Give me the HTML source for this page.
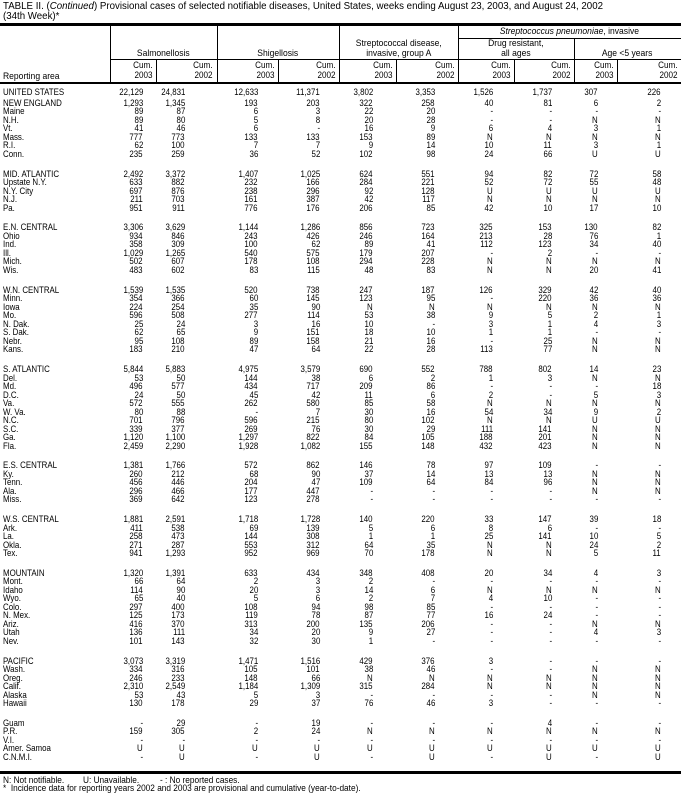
<!DOCTYPE html>
<html><head><meta charset="utf-8"><style>
*{margin:0;padding:0;box-sizing:border-box}
body{width:681px;height:795px;background:#fff;position:relative;overflow:hidden;font-family:"Liberation Sans",Arial,sans-serif;color:#000}
.t{position:absolute;white-space:nowrap;font-size:10px;transform:scaleX(.97);transform-origin:left}
.ln{position:absolute;background:#000}
.h{position:absolute;font-size:9.5px;line-height:9.5px;text-align:center;white-space:nowrap}
.h span{display:inline-block;transform:scaleX(.9)}
.cum{position:absolute;font-size:9px;line-height:9.5px;text-align:right;white-space:nowrap;transform:scaleX(.9);transform-origin:right}
.g{position:absolute;left:0;width:681px}
.r{position:relative;height:8.5px;line-height:8.5px;font-size:9.3px;white-space:nowrap}
.r span{position:absolute;top:0;transform:scaleX(.85);transform-origin:right}
.r span:nth-child(1){left:3px;transform-origin:left}
.r span:nth-child(2){right:538px}
.r span:nth-child(3){right:496px}
.r span:nth-child(4){right:423px}
.r span:nth-child(5){right:361px}
.r span:nth-child(6){right:308px}
.r span:nth-child(7){right:246px}
.r span:nth-child(8){right:188px}
.r span:nth-child(9){right:129px}
.r span:nth-child(10){right:83px}
.r span:nth-child(11){right:20px}
.f{position:absolute;font-size:9px;white-space:nowrap;transform:scaleX(.9);transform-origin:left}
.fn{position:absolute;font-size:9px;white-space:nowrap;transform:scaleX(.92);transform-origin:left}
</style></head><body>
<div class="t" style="left:3px;top:1px">TABLE II. (<i>Continued</i>) Provisional cases of selected notifiable diseases, United States, weeks ending August 23, 2003, and August 24, 2002</div>
<div class="t" style="left:3px;top:11px">(34th Week)*</div>

<div class="ln" style="left:0;top:23px;width:681px;height:3px"></div>
<div class="ln" style="left:0;top:82px;width:681px;height:1.5px"></div>
<div class="ln" style="left:458px;top:38px;width:223px;height:1px"></div>
<div class="ln" style="left:110px;top:59px;width:571px;height:1px"></div>
<div class="ln" style="left:110px;top:25px;width:1px;height:58px"></div>
<div class="ln" style="left:217px;top:25px;width:1px;height:58px"></div>
<div class="ln" style="left:339px;top:25px;width:1px;height:58px"></div>
<div class="ln" style="left:458px;top:25px;width:1px;height:58px"></div>
<div class="ln" style="left:574px;top:38px;width:1px;height:45px"></div>
<div class="ln" style="left:156px;top:59px;width:1px;height:24px"></div>
<div class="ln" style="left:278px;top:59px;width:1px;height:24px"></div>
<div class="ln" style="left:396px;top:59px;width:1px;height:24px"></div>
<div class="ln" style="left:514px;top:59px;width:1px;height:24px"></div>
<div class="ln" style="left:617px;top:59px;width:1px;height:24px"></div>

<div class="h" style="left:458px;width:223px;top:27px"><span><i>Streptococcus pneumoniae</i>, invasive</span></div>
<div class="h" style="left:110px;width:107px;top:49px"><span>Salmonellosis</span></div>
<div class="h" style="left:217px;width:122px;top:49px"><span>Shigellosis</span></div>
<div class="h" style="left:339px;width:119px;top:39px"><span>Streptococcal disease,<br>invasive, group A</span></div>
<div class="h" style="left:458px;width:116px;top:39px"><span>Drug resistant,<br>all ages</span></div>
<div class="h" style="left:574px;width:107px;top:49px"><span>Age &lt;5 years</span></div>
<div class="f" style="left:3px;top:71px;font-size:9.5px">Reporting area</div>

<div class="cum" style="right:528px;top:61px">Cum.<br>2003</div>
<div class="cum" style="right:468px;top:61px">Cum.<br>2002</div>
<div class="cum" style="right:406px;top:61px">Cum.<br>2003</div>
<div class="cum" style="right:345px;top:61px">Cum.<br>2002</div>
<div class="cum" style="right:288px;top:61px">Cum.<br>2003</div>
<div class="cum" style="right:226px;top:61px">Cum.<br>2002</div>
<div class="cum" style="right:170px;top:61px">Cum.<br>2003</div>
<div class="cum" style="right:110px;top:61px">Cum.<br>2002</div>
<div class="cum" style="right:67px;top:61px">Cum.<br>2003</div>
<div class="cum" style="right:3px;top:61px">Cum.<br>2002</div>

<div class="g" style="top:87.75px">
<div class="r"><span>UNITED STATES</span><span>22,129</span><span>24,831</span><span>12,633</span><span>11,371</span><span>3,802</span><span>3,353</span><span>1,526</span><span>1,737</span><span>307</span><span>226</span></div>
</div>
<div class="g" style="top:98.75px">
<div class="r"><span>NEW ENGLAND</span><span>1,293</span><span>1,345</span><span>193</span><span>203</span><span>322</span><span>258</span><span>40</span><span>81</span><span>6</span><span>2</span></div>
<div class="r"><span>Maine</span><span>89</span><span>87</span><span>6</span><span>3</span><span>22</span><span>20</span><span>-</span><span>-</span><span>-</span><span>-</span></div>
<div class="r"><span>N.H.</span><span>89</span><span>80</span><span>5</span><span>8</span><span>20</span><span>28</span><span>-</span><span>-</span><span>N</span><span>N</span></div>
<div class="r"><span>Vt.</span><span>41</span><span>46</span><span>6</span><span>-</span><span>16</span><span>9</span><span>6</span><span>4</span><span>3</span><span>1</span></div>
<div class="r"><span>Mass.</span><span>777</span><span>773</span><span>133</span><span>133</span><span>153</span><span>89</span><span>N</span><span>N</span><span>N</span><span>N</span></div>
<div class="r"><span>R.I.</span><span>62</span><span>100</span><span>7</span><span>7</span><span>9</span><span>14</span><span>10</span><span>11</span><span>3</span><span>1</span></div>
<div class="r"><span>Conn.</span><span>235</span><span>259</span><span>36</span><span>52</span><span>102</span><span>98</span><span>24</span><span>66</span><span>U</span><span>U</span></div>
</div>
<div class="g" style="top:169.5px">
<div class="r"><span>MID. ATLANTIC</span><span>2,492</span><span>3,372</span><span>1,407</span><span>1,025</span><span>624</span><span>551</span><span>94</span><span>82</span><span>72</span><span>58</span></div>
<div class="r"><span>Upstate N.Y.</span><span>633</span><span>882</span><span>232</span><span>166</span><span>284</span><span>221</span><span>52</span><span>72</span><span>55</span><span>48</span></div>
<div class="r"><span>N.Y. City</span><span>697</span><span>876</span><span>238</span><span>296</span><span>92</span><span>128</span><span>U</span><span>U</span><span>U</span><span>U</span></div>
<div class="r"><span>N.J.</span><span>211</span><span>703</span><span>161</span><span>387</span><span>42</span><span>117</span><span>N</span><span>N</span><span>N</span><span>N</span></div>
<div class="r"><span>Pa.</span><span>951</span><span>911</span><span>776</span><span>176</span><span>206</span><span>85</span><span>42</span><span>10</span><span>17</span><span>10</span></div>
</div>
<div class="g" style="top:223.3px">
<div class="r"><span>E.N. CENTRAL</span><span>3,306</span><span>3,629</span><span>1,144</span><span>1,286</span><span>856</span><span>723</span><span>325</span><span>153</span><span>130</span><span>82</span></div>
<div class="r"><span>Ohio</span><span>934</span><span>846</span><span>243</span><span>426</span><span>246</span><span>164</span><span>213</span><span>28</span><span>76</span><span>1</span></div>
<div class="r"><span>Ind.</span><span>358</span><span>309</span><span>100</span><span>62</span><span>89</span><span>41</span><span>112</span><span>123</span><span>34</span><span>40</span></div>
<div class="r"><span>Ill.</span><span>1,029</span><span>1,265</span><span>540</span><span>575</span><span>179</span><span>207</span><span>-</span><span>2</span><span>-</span><span>-</span></div>
<div class="r"><span>Mich.</span><span>502</span><span>607</span><span>178</span><span>108</span><span>294</span><span>228</span><span>N</span><span>N</span><span>N</span><span>N</span></div>
<div class="r"><span>Wis.</span><span>483</span><span>602</span><span>83</span><span>115</span><span>48</span><span>83</span><span>N</span><span>N</span><span>20</span><span>41</span></div>
</div>
<div class="g" style="top:285.6px">
<div class="r"><span>W.N. CENTRAL</span><span>1,539</span><span>1,535</span><span>520</span><span>738</span><span>247</span><span>187</span><span>126</span><span>329</span><span>42</span><span>40</span></div>
<div class="r"><span>Minn.</span><span>354</span><span>366</span><span>60</span><span>145</span><span>123</span><span>95</span><span>-</span><span>220</span><span>36</span><span>36</span></div>
<div class="r"><span>Iowa</span><span>224</span><span>254</span><span>35</span><span>90</span><span>N</span><span>N</span><span>N</span><span>N</span><span>N</span><span>N</span></div>
<div class="r"><span>Mo.</span><span>596</span><span>508</span><span>277</span><span>114</span><span>53</span><span>38</span><span>9</span><span>5</span><span>2</span><span>1</span></div>
<div class="r"><span>N. Dak.</span><span>25</span><span>24</span><span>3</span><span>16</span><span>10</span><span>-</span><span>3</span><span>1</span><span>4</span><span>3</span></div>
<div class="r"><span>S. Dak.</span><span>62</span><span>65</span><span>9</span><span>151</span><span>18</span><span>10</span><span>1</span><span>1</span><span>-</span><span>-</span></div>
<div class="r"><span>Nebr.</span><span>95</span><span>108</span><span>89</span><span>158</span><span>21</span><span>16</span><span>-</span><span>25</span><span>N</span><span>N</span></div>
<div class="r"><span>Kans.</span><span>183</span><span>210</span><span>47</span><span>64</span><span>22</span><span>28</span><span>113</span><span>77</span><span>N</span><span>N</span></div>
</div>
<div class="g" style="top:365px">
<div class="r"><span>S. ATLANTIC</span><span>5,844</span><span>5,883</span><span>4,975</span><span>3,579</span><span>690</span><span>552</span><span>788</span><span>802</span><span>14</span><span>23</span></div>
<div class="r"><span>Del.</span><span>53</span><span>50</span><span>144</span><span>38</span><span>6</span><span>2</span><span>1</span><span>3</span><span>N</span><span>N</span></div>
<div class="r"><span>Md.</span><span>496</span><span>577</span><span>434</span><span>717</span><span>209</span><span>86</span><span>-</span><span>-</span><span>-</span><span>18</span></div>
<div class="r"><span>D.C.</span><span>24</span><span>50</span><span>45</span><span>42</span><span>11</span><span>6</span><span>2</span><span>-</span><span>5</span><span>3</span></div>
<div class="r"><span>Va.</span><span>572</span><span>555</span><span>262</span><span>580</span><span>85</span><span>58</span><span>N</span><span>N</span><span>N</span><span>N</span></div>
<div class="r"><span>W. Va.</span><span>80</span><span>88</span><span>-</span><span>7</span><span>30</span><span>16</span><span>54</span><span>34</span><span>9</span><span>2</span></div>
<div class="r"><span>N.C.</span><span>701</span><span>796</span><span>596</span><span>215</span><span>80</span><span>102</span><span>N</span><span>N</span><span>U</span><span>U</span></div>
<div class="r"><span>S.C.</span><span>339</span><span>377</span><span>269</span><span>76</span><span>30</span><span>29</span><span>111</span><span>141</span><span>N</span><span>N</span></div>
<div class="r"><span>Ga.</span><span>1,120</span><span>1,100</span><span>1,297</span><span>822</span><span>84</span><span>105</span><span>188</span><span>201</span><span>N</span><span>N</span></div>
<div class="r"><span>Fla.</span><span>2,459</span><span>2,290</span><span>1,928</span><span>1,082</span><span>155</span><span>148</span><span>432</span><span>423</span><span>N</span><span>N</span></div>
</div>
<div class="g" style="top:461.2px">
<div class="r"><span>E.S. CENTRAL</span><span>1,381</span><span>1,766</span><span>572</span><span>862</span><span>146</span><span>78</span><span>97</span><span>109</span><span>-</span><span>-</span></div>
<div class="r"><span>Ky.</span><span>260</span><span>212</span><span>68</span><span>90</span><span>37</span><span>14</span><span>13</span><span>13</span><span>N</span><span>N</span></div>
<div class="r"><span>Tenn.</span><span>456</span><span>446</span><span>204</span><span>47</span><span>109</span><span>64</span><span>84</span><span>96</span><span>N</span><span>N</span></div>
<div class="r"><span>Ala.</span><span>296</span><span>466</span><span>177</span><span>447</span><span>-</span><span>-</span><span>-</span><span>-</span><span>N</span><span>N</span></div>
<div class="r"><span>Miss.</span><span>369</span><span>642</span><span>123</span><span>278</span><span>-</span><span>-</span><span>-</span><span>-</span><span>-</span><span>-</span></div>
</div>
<div class="g" style="top:515px">
<div class="r"><span>W.S. CENTRAL</span><span>1,881</span><span>2,591</span><span>1,718</span><span>1,728</span><span>140</span><span>220</span><span>33</span><span>147</span><span>39</span><span>18</span></div>
<div class="r"><span>Ark.</span><span>411</span><span>538</span><span>69</span><span>139</span><span>5</span><span>6</span><span>8</span><span>6</span><span>-</span><span>-</span></div>
<div class="r"><span>La.</span><span>258</span><span>473</span><span>144</span><span>308</span><span>1</span><span>1</span><span>25</span><span>141</span><span>10</span><span>5</span></div>
<div class="r"><span>Okla.</span><span>271</span><span>287</span><span>553</span><span>312</span><span>64</span><span>35</span><span>N</span><span>N</span><span>24</span><span>2</span></div>
<div class="r"><span>Tex.</span><span>941</span><span>1,293</span><span>952</span><span>969</span><span>70</span><span>178</span><span>N</span><span>N</span><span>5</span><span>11</span></div>
</div>
<div class="g" style="top:568.7px">
<div class="r"><span>MOUNTAIN</span><span>1,320</span><span>1,391</span><span>633</span><span>434</span><span>348</span><span>408</span><span>20</span><span>34</span><span>4</span><span>3</span></div>
<div class="r"><span>Mont.</span><span>66</span><span>64</span><span>2</span><span>3</span><span>2</span><span>-</span><span>-</span><span>-</span><span>-</span><span>-</span></div>
<div class="r"><span>Idaho</span><span>114</span><span>90</span><span>20</span><span>3</span><span>14</span><span>6</span><span>N</span><span>N</span><span>N</span><span>N</span></div>
<div class="r"><span>Wyo.</span><span>65</span><span>40</span><span>5</span><span>6</span><span>2</span><span>7</span><span>4</span><span>10</span><span>-</span><span>-</span></div>
<div class="r"><span>Colo.</span><span>297</span><span>400</span><span>108</span><span>94</span><span>98</span><span>85</span><span>-</span><span>-</span><span>-</span><span>-</span></div>
<div class="r"><span>N. Mex.</span><span>125</span><span>173</span><span>119</span><span>78</span><span>87</span><span>77</span><span>16</span><span>24</span><span>-</span><span>-</span></div>
<div class="r"><span>Ariz.</span><span>416</span><span>370</span><span>313</span><span>200</span><span>135</span><span>206</span><span>-</span><span>-</span><span>N</span><span>N</span></div>
<div class="r"><span>Utah</span><span>136</span><span>111</span><span>34</span><span>20</span><span>9</span><span>27</span><span>-</span><span>-</span><span>4</span><span>3</span></div>
<div class="r"><span>Nev.</span><span>101</span><span>143</span><span>32</span><span>30</span><span>1</span><span>-</span><span>-</span><span>-</span><span>-</span><span>-</span></div>
</div>
<div class="g" style="top:656.5px">
<div class="r"><span>PACIFIC</span><span>3,073</span><span>3,319</span><span>1,471</span><span>1,516</span><span>429</span><span>376</span><span>3</span><span>-</span><span>-</span><span>-</span></div>
<div class="r"><span>Wash.</span><span>334</span><span>316</span><span>105</span><span>101</span><span>38</span><span>46</span><span>-</span><span>-</span><span>N</span><span>N</span></div>
<div class="r"><span>Oreg.</span><span>246</span><span>233</span><span>148</span><span>66</span><span>N</span><span>N</span><span>N</span><span>N</span><span>N</span><span>N</span></div>
<div class="r"><span>Calif.</span><span>2,310</span><span>2,549</span><span>1,184</span><span>1,309</span><span>315</span><span>284</span><span>N</span><span>N</span><span>N</span><span>N</span></div>
<div class="r"><span>Alaska</span><span>53</span><span>43</span><span>5</span><span>3</span><span>-</span><span>-</span><span>-</span><span>-</span><span>N</span><span>N</span></div>
<div class="r"><span>Hawaii</span><span>130</span><span>178</span><span>29</span><span>37</span><span>76</span><span>46</span><span>3</span><span>-</span><span>-</span><span>-</span></div>
</div>
<div class="g" style="top:718.7px">
<div class="r"><span>Guam</span><span>-</span><span>29</span><span>-</span><span>19</span><span>-</span><span>-</span><span>-</span><span>4</span><span>-</span><span>-</span></div>
<div class="r"><span>P.R.</span><span>159</span><span>305</span><span>2</span><span>24</span><span>N</span><span>N</span><span>N</span><span>N</span><span>N</span><span>N</span></div>
<div class="r"><span>V.I.</span><span>-</span><span>-</span><span>-</span><span>-</span><span>-</span><span>-</span><span>-</span><span>-</span><span>-</span><span>-</span></div>
<div class="r"><span>Amer. Samoa</span><span>U</span><span>U</span><span>U</span><span>U</span><span>U</span><span>U</span><span>U</span><span>U</span><span>U</span><span>U</span></div>
<div class="r"><span>C.N.M.I.</span><span>-</span><span>U</span><span>-</span><span>U</span><span>-</span><span>U</span><span>-</span><span>U</span><span>-</span><span>U</span></div>
</div>

<div class="ln" style="left:0;top:771px;width:681px;height:2.5px"></div>
<div class="fn" style="left:3px;top:775px">N: Not notifiable.</div>
<div class="fn" style="left:83px;top:775px">U: Unavailable.</div>
<div class="fn" style="left:160px;top:775px">- : No reported cases.</div>
<div class="fn" style="left:3px;top:783px">* &nbsp;Incidence data for reporting years 2002 and 2003 are provisional and cumulative (year-to-date).</div>
</body></html>
